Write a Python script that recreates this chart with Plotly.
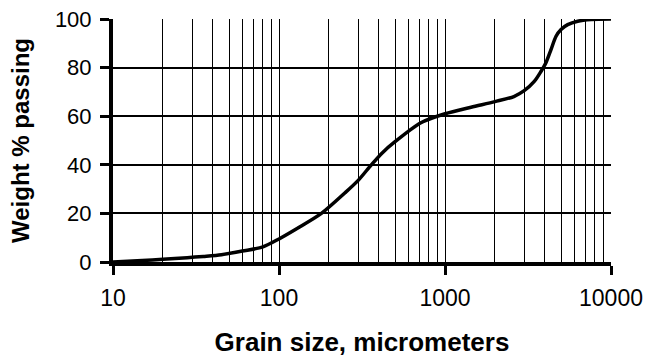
import plotly.graph_objects as go

# Data
grain_size = [10, 15, 20, 28, 35, 45, 60, 80, 100, 130, 180, 250, 300, 360, 420, 500,
              716, 1000, 1436, 2000, 2600, 3000, 3450, 3785, 4056, 4350, 4666, 5000,
              5485, 6300, 7600, 10000]
weight_passing = [0, 0.6, 1.1, 1.8, 2.3, 3.0, 4.5, 6.2, 9.5, 14, 20, 28.5, 33.6, 40, 45, 49.5,
                  57.3, 61, 63.7, 66, 68.1, 70.5, 74.3, 78.4, 82, 87.4, 92.9, 95.7,
                  97.7, 99.1, 99.8, 100]

x_major_ticks = [10, 100, 1000, 10000]
x_tick_labels = ["10", "100", "1000", "10000"]
x_decade_grid = [100, 1000]
x_minor_ticks = [20, 30, 40, 50, 60, 70, 80, 90,
                 200, 300, 400, 500, 600, 700, 800, 900,
                 2000, 3000, 4000, 5000, 6000, 7000, 8000, 9000]
y_ticks = [0, 20, 40, 60, 80, 100]

FONT = "Liberation Sans, Arial, sans-serif"

fig = go.Figure()
# invisible carrier trace so the overlay axis (solid decade gridlines) is drawn
fig.add_trace(go.Scatter(
    x=grain_size, y=weight_passing, mode="lines", xaxis="x2",
    line=dict(color="rgba(0,0,0,0)", width=0),
    showlegend=False, hoverinfo="skip",
))
fig.add_trace(go.Scatter(
    x=grain_size, y=weight_passing, mode="lines",
    line=dict(color="black", width=3.5, shape="spline", smoothing=0.8),
    showlegend=False, hoverinfo="skip",
))

fig.update_layout(
    width=649, height=361,
    margin=dict(l=113, r=38, t=19, b=99),
    paper_bgcolor="white", plot_bgcolor="white",
    font=dict(family=FONT, color="black"),
    xaxis2=dict(
        type="log", range=[1, 4], overlaying="x", side="bottom", anchor="y",
        tickmode="array", tickvals=x_decade_grid, showticklabels=False,
        ticks="", showgrid=True, gridcolor="black", gridwidth=1.2,
        showline=False, zeroline=False, automargin=False,
    ),
)

fig.layout.xaxis.update(
    type="log", range=[1, 4], automargin=False,
    tickmode="array", tickvals=x_major_ticks, ticktext=x_tick_labels,
    tickfont=dict(size=23, family=FONT, color="black"),
    ticks="outside", ticklen=9, tickwidth=3, tickcolor="black",
    ticklabelstandoff=3,
    showline=True, linewidth=4, linecolor="black",
    showgrid=True, gridcolor="#bbbbbb", gridwidth=1, griddash="dot",
    minor=dict(tickmode="array", tickvals=x_minor_ticks, showgrid=True,
               gridcolor="black", gridwidth=1.2, griddash="solid", ticks=""),
    title=dict(text="<b>Grain size, micrometers</b>",
               font=dict(size=26, family=FONT, color="black"), standoff=24),
    zeroline=False,
)

fig.layout.yaxis.update(
    range=[0, 100], automargin=False,
    tickmode="array", tickvals=y_ticks,
    tickfont=dict(size=22, family=FONT, color="black"),
    ticks="outside", ticklen=9, tickwidth=3, tickcolor="black",
    ticklabelstandoff=4,
    showline=True, linewidth=4, linecolor="black",
    showgrid=True, gridcolor="black", gridwidth=1.8,
    title=dict(text="<b>Weight % passing</b>",
               font=dict(size=24, family=FONT, color="black"), standoff=19),
    zeroline=False,
)

fig.write_html("out.html")
